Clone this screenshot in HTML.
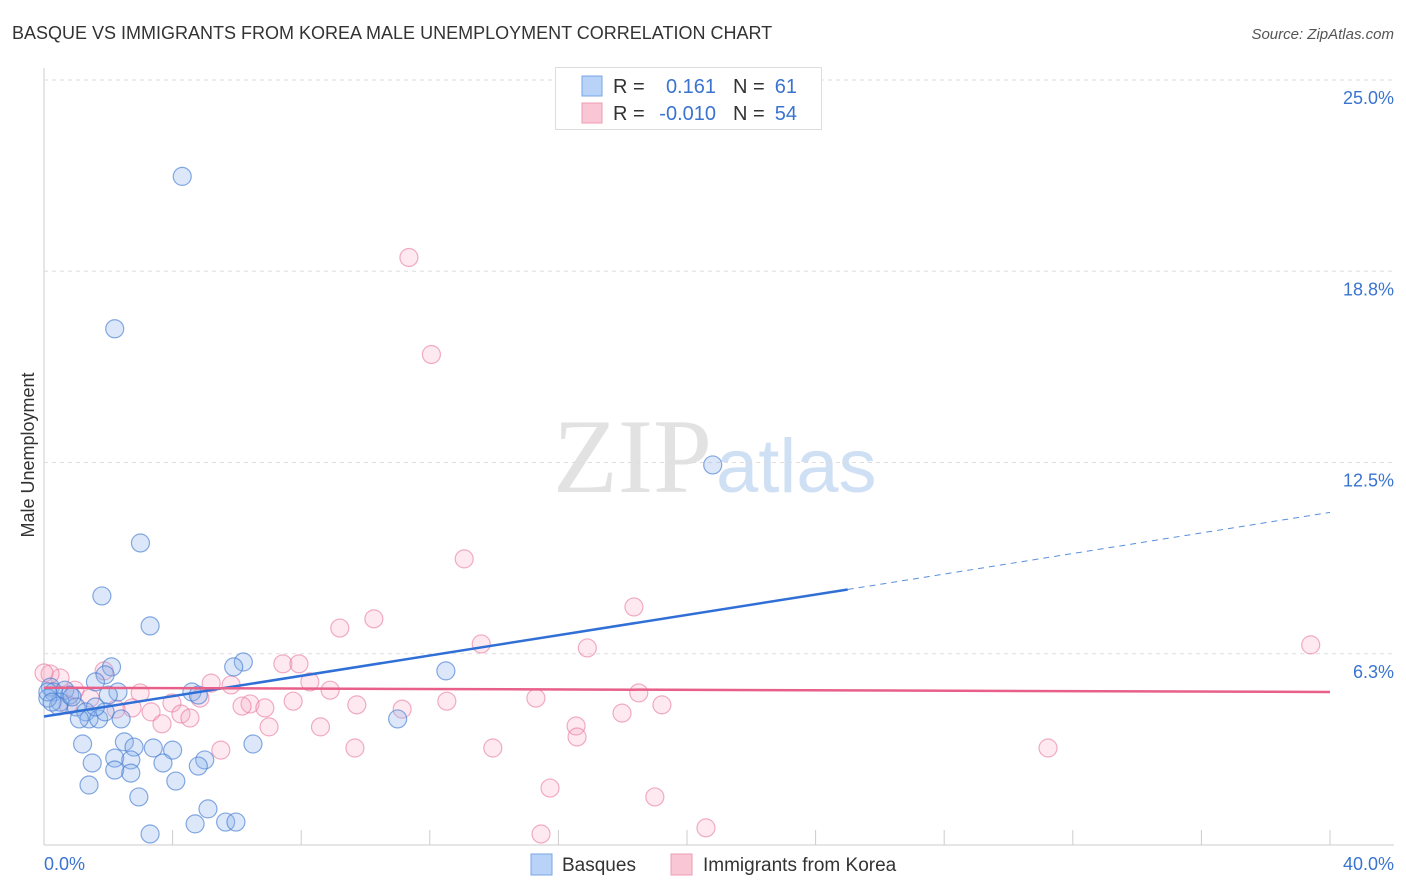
<!DOCTYPE html>
<html><head><meta charset="utf-8"><style>
body{margin:0;background:#fff;font-family:"Liberation Sans",sans-serif;}
svg{display:block}
</style></head><body>
<svg id="c" width="1406" height="892">
<text x="12" y="39" font-size="18" fill="#333">BASQUE VS IMMIGRANTS FROM KOREA MALE UNEMPLOYMENT CORRELATION CHART</text>
<text x="1394" y="39" font-size="15" fill="#555" font-style="italic" text-anchor="end">Source: ZipAtlas.com</text>
<text x="553" y="492" font-size="106" fill="#e2e2e2" font-family="Liberation Serif,serif">ZIP</text>
<text x="716" y="492" font-size="76" fill="#cfe0f5">atlas</text>
<text transform="translate(34,455) rotate(-90)" font-size="18" fill="#333" text-anchor="middle">Male Unemployment</text>
<g id="grid"></g><g id="pts"></g><g id="lines"></g>
<g>
<rect x="555.5" y="67.5" width="266" height="62" fill="#fff" stroke="#ddd"/>
<rect x="582" y="76" width="20" height="20" fill="#b8d3f7" stroke="#7aa6e6"/>
<rect x="582" y="103" width="20" height="20" fill="#f9c6d5" stroke="#ee9cb5"/>
<text x="613" y="93" font-size="20" fill="#333">R =</text>
<text x="716" y="93" font-size="20" fill="#3a74d0" text-anchor="end">0.161</text>
<text x="733" y="93" font-size="20" fill="#333">N =</text>
<text x="797" y="93" font-size="20" fill="#3a74d0" text-anchor="end">61</text>
<text x="613" y="120" font-size="20" fill="#333">R =</text>
<text x="716" y="120" font-size="20" fill="#3a74d0" text-anchor="end">-0.010</text>
<text x="733" y="120" font-size="20" fill="#333">N =</text>
<text x="797" y="120" font-size="20" fill="#3a74d0" text-anchor="end">54</text>
</g>
<g>
<rect x="531" y="854" width="21" height="21" fill="#b8d3f7" stroke="#7aa6e6"/>
<text x="562" y="871" font-size="19" fill="#333">Basques</text>
<rect x="671" y="854" width="21" height="21" fill="#f9c6d5" stroke="#ee9cb5"/>
<text x="703" y="871" font-size="19" fill="#333">Immigrants from Korea</text>
</g>
<text x="44" y="870" font-size="18" fill="#3a74d0">0.0%</text>
<text x="1394" y="870" font-size="18" fill="#3a74d0" text-anchor="end">40.0%</text>
</svg>
<script>
const yTicks=[6.3,12.5,18.8,25.0];
const blueX=[4.3,2.2,3.0,1.8,3.3,20.8,12.5,6.2,5.9,2.1,1.9,1.6,2.3,2.0,4.6,4.8,0.2,0.3,0.65,0.8,0.5,1.0,1.3,1.4,1.7,1.9,2.4,1.1,0.45,0.12,11.0,6.5,1.2,2.5,2.8,3.4,4.0,2.2,2.7,3.7,5.0,4.8,1.5,2.2,2.7,1.4,4.1,2.95,5.1,4.7,5.65,5.97,3.3,0.12,0.25,1.6,0.87];
const blueY=[21.85,16.87,9.87,8.14,7.16,12.42,5.69,5.98,5.82,5.82,5.56,5.33,5.0,4.9,5.0,4.9,5.16,5.0,5.06,4.9,4.67,4.51,4.35,4.12,4.12,4.35,4.12,4.12,4.54,4.8,4.12,3.3,3.3,3.37,3.2,3.17,3.1,2.84,2.78,2.68,2.78,2.58,2.68,2.45,2.35,1.96,2.09,1.57,1.18,0.69,0.75,0.75,0.36,5.0,4.67,4.51,4.84];
const pinkX=[11.35,12.05,13.07,18.35,10.26,9.2,39.4,13.6,16.9,7.43,7.93,1.87,0.5,0.19,0.0,5.2,5.82,8.27,2.99,4.85,3.98,8.9,18.5,15.3,12.53,7.75,6.41,6.16,6.87,9.73,11.14,19.22,2.74,2.24,3.33,4.26,4.54,3.67,7.0,8.6,16.55,17.98,16.58,5.5,9.67,13.96,31.23,15.74,19.0,15.46,20.59,0.96,1.43,0.75];
const pinkY=[19.2,16.03,9.35,7.78,7.39,7.09,6.54,6.57,6.44,5.92,5.92,5.69,5.46,5.59,5.62,5.29,5.23,5.33,4.97,4.8,4.64,5.06,4.97,4.8,4.7,4.7,4.61,4.54,4.48,4.58,4.44,4.58,4.48,4.44,4.35,4.28,4.15,3.96,3.86,3.86,3.89,4.31,3.53,3.10,3.17,3.17,3.17,1.86,1.57,0.36,0.56,5.06,4.8,4.58];
const blueTrend=[[0,4.2],[25,8.35]], blueDash=[[25,8.35],[40,10.87]];
const pinkTrend=[[0,5.14],[40,5.0]];
const X=v=>44+v/40*1286, Y=v=>845-v/25*765;
const NS='http://www.w3.org/2000/svg';
function mk(t,a,p){const e=document.createElementNS(NS,t);for(const k in a)e.setAttribute(k,a[k]);p.appendChild(e);return e;}
const g=document.getElementById('grid');
mk('line',{x1:44,y1:68,x2:44,y2:845,stroke:'#ccc'},g);
mk('line',{x1:44,y1:845,x2:1394,y2:845,stroke:'#ccc'},g);
for(let i=1;i<=10;i++){const l=mk('line',{x1:44+i*128.6,y1:830,x2:44+i*128.6,y2:845,stroke:'#ccc'},g);

}
yTicks.forEach(t=>{const y=Y(t*(t==6.3?6.25/6.3:t==18.8?18.75/18.8:1));
mk('line',{x1:44,y1:y,x2:1394,y2:y,stroke:'#ddd','stroke-dasharray':'4,4'},g);
const tx=mk('text',{x:1394,y:y+24,'font-size':18,fill:'#3a74d0','text-anchor':'end'},g);
tx.textContent=t.toFixed(1)+'%';

});
const p=document.getElementById('pts');
pinkX.forEach((x,i)=>{const c=mk('circle',{cx:X(x),cy:Y(pinkY[i]),r:9,fill:'rgba(246,166,190,0.25)',stroke:'rgba(232,120,160,0.6)','stroke-width':1.2},p);

});
blueX.forEach((x,i)=>{const c=mk('circle',{cx:X(x),cy:Y(blueY[i]),r:9,fill:'rgba(140,180,235,0.3)',stroke:'rgba(70,125,210,0.65)','stroke-width':1.2},p);

});
const L=document.getElementById('lines');
let a=mk('line',{x1:X(blueTrend[0][0]),y1:Y(blueTrend[0][1]),x2:X(blueTrend[1][0]),y2:Y(blueTrend[1][1]),stroke:'#2f6fd6','stroke-width':2.5},L);


a=mk('line',{x1:X(blueDash[0][0]),y1:Y(blueDash[0][1]),x2:X(blueDash[1][0]),y2:Y(blueDash[1][1]),stroke:'#5b8fdc','stroke-width':1,'stroke-dasharray':'6,5'},L);


a=mk('line',{x1:X(pinkTrend[0][0]),y1:Y(pinkTrend[0][1]),x2:X(pinkTrend[1][0]),y2:Y(pinkTrend[1][1]),stroke:'#e8608a','stroke-width':2.5},L);


</script>
</body></html>
